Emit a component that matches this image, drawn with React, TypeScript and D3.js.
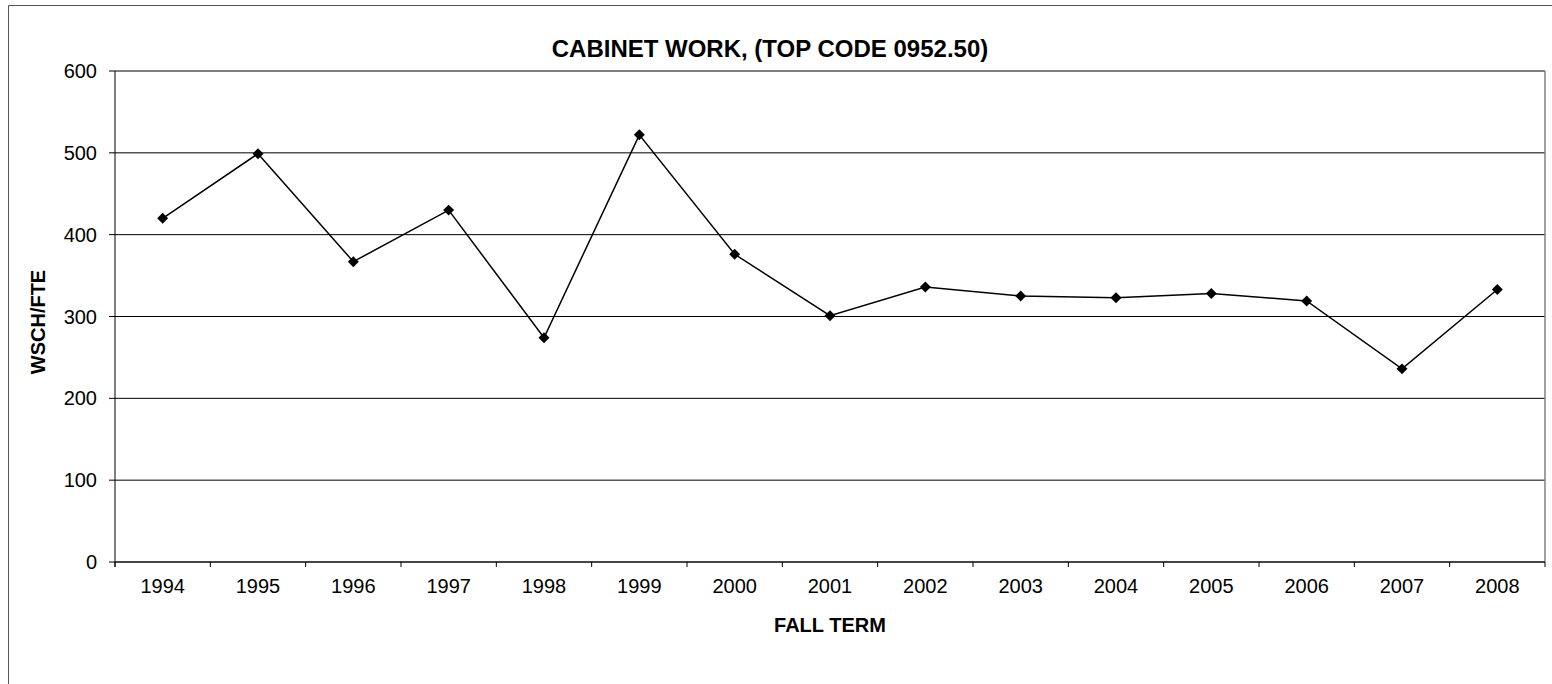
import React from 'react';
import * as d3 from 'd3';

const years: string[] = ['1994', '1995', '1996', '1997', '1998', '1999', '2000', '2001', '2002', '2003', '2004', '2005', '2006', '2007', '2008'];
const values: number[] = [420, 499, 367, 430, 274, 522, 376, 301, 336, 325, 323, 328, 319, 236, 333];
const yTicks: number[] = [0, 100, 200, 300, 400, 500, 600];

const title = 'CABINET WORK, (TOP CODE 0952.50)';
const xTitle = 'FALL TERM';
const yTitle = 'WSCH/FTE';

const W = 1552;
const H = 684;
const plot = { left: 115, right: 1545, top: 71, bottom: 562 };
const font = '"Liberation Sans", Arial, Helvetica, sans-serif';

export default function App() {
  const x = d3.scaleBand<string>().domain(years).range([plot.left, plot.right]).padding(0);
  const y = d3.scaleLinear().domain([0, 600]).range([plot.bottom, plot.top]);
  const line = d3
    .line<number>()
    .x((_, i) => (x(years[i]) as number) + x.bandwidth() / 2)
    .y((d) => y(d));
  const diamond = d3.symbol().type(d3.symbolSquare).size(60)() as string;
  const boundaries = years.map((yr) => x(yr) as number).concat([plot.right]);

  return (
    <svg
      width={W}
      height={H}
      style={{ position: 'absolute', left: 0, top: 0, background: '#fff' }}
      fontFamily={font}
    >
      <rect x={0} y={0} width={W} height={H} fill="#fff" />
      {/* outer chart border */}
      <line x1={8.5} y1={5.5} x2={8.5} y2={H} stroke="#555" strokeWidth={1} />
      <line x1={8.5} y1={5.5} x2={W} y2={5.5} stroke="#555" strokeWidth={1} />

      {/* gridlines */}
      {yTicks.map((t) => (
        <line key={'g' + t} x1={plot.left} x2={plot.right} y1={y(t)} y2={y(t)} stroke="#000" strokeWidth={1} />
      ))}
      {/* plot border right */}
      <line x1={plot.right} x2={plot.right} y1={plot.top} y2={plot.bottom} stroke="#808080" strokeWidth={1.5} />

      {/* y axis */}
      <line x1={plot.left} x2={plot.left} y1={plot.top} y2={plot.bottom + 5} stroke="#000" strokeWidth={1} />
      {yTicks.map((t) => (
        <g key={'yt' + t}>
          <line x1={plot.left - 6} x2={plot.left} y1={y(t)} y2={y(t)} stroke="#000" strokeWidth={1} />
          <text x={97} y={y(t)} dy="0.35em" textAnchor="end" fontSize={20} fill="#000">
            {t}
          </text>
        </g>
      ))}

      {/* x axis */}
      <line x1={plot.left} x2={plot.right} y1={plot.bottom} y2={plot.bottom} stroke="#333" strokeWidth={1.5} />
      {boundaries.map((b, i) => (
        <line key={'xt' + i} x1={b} x2={b} y1={plot.bottom} y2={plot.bottom + 5} stroke="#000" strokeWidth={1} />
      ))}
      {years.map((yr) => (
        <text key={'xl' + yr} x={(x(yr) as number) + x.bandwidth() / 2} y={593} textAnchor="middle" fontSize={20} fill="#000">
          {yr}
        </text>
      ))}

      {/* series */}
      <path d={line(values) as string} fill="none" stroke="#000" strokeWidth={1.5} />
      {values.map((v, i) => (
        <path
          key={'m' + i}
          d={diamond}
          transform={`translate(${(x(years[i]) as number) + x.bandwidth() / 2},${y(v)}) rotate(45)`}
          fill="#000"
        />
      ))}

      {/* titles */}
      <text x={770} y={57} textAnchor="middle" fontSize={24} fontWeight="bold" fill="#000">
        {title}
      </text>
      <text x={830} y={632} textAnchor="middle" fontSize={20} fontWeight="bold" fill="#000">
        {xTitle}
      </text>
      <text transform={`translate(45,322) rotate(-90)`} textAnchor="middle" fontSize={20} fontWeight="bold" fill="#000">
        {yTitle}
      </text>
    </svg>
  );
}
